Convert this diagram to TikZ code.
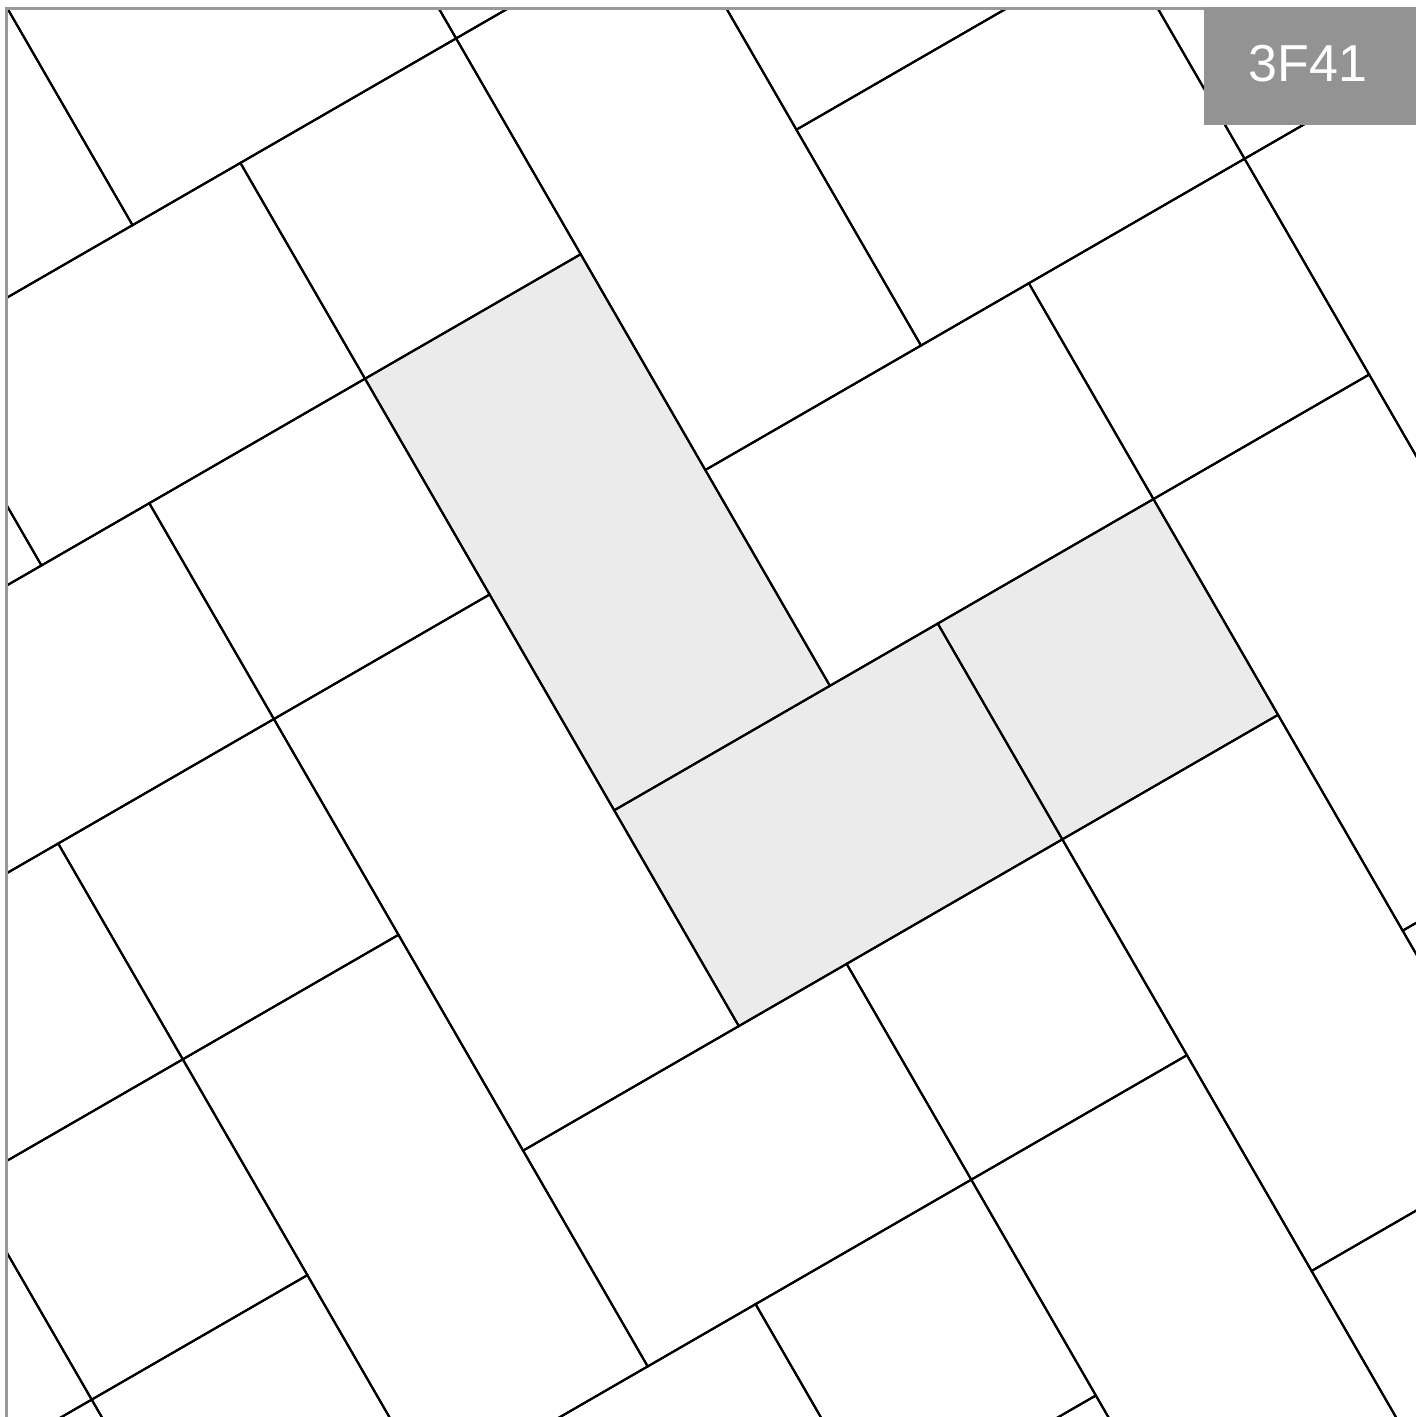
\documentclass[tikz,border=0pt]{standalone}
\usepackage{fontspec}
\setmainfont{Liberation Sans}
\definecolor{framegray}{HTML}{999999}
\definecolor{labelgray}{HTML}{939393}
\definecolor{tilefill}{HTML}{EBEBEB}
\begin{document}
\begin{tikzpicture}[x=1pt,y=-1pt,
  tileline/.style={line width=2.1pt, black, line join=miter},
  hilite/.style={fill=tilefill},
  framestyle/.style={framegray, line width=3pt},
  labeltext/.style={text=white, font=\fontsize{52}{52}\selectfont, inner sep=0pt, anchor=base}]
\useasboundingbox (0,0) rectangle (1416,1417);
\begin{scope}
  \clip (6.5,8.3) rectangle (1416,1417);
  \begin{scope}[shift={(614.2,810.3)}, x={(215.7pt,124.5pt)}, y={(124.6pt,-215.8pt)}]
    \fill[hilite] (0,-2) -- (1,-2) -- (1,0) -- (0,0) -- cycle;
    \fill[hilite] (0,0) -- (2.5,0) -- (2.5,1) -- (0,1) -- cycle;
    \foreach \m in {-7,...,7}{
      \foreach \n in {-3,...,3}{
        \pgfmathsetmacro{\da}{\m+4.5*\n}
        \pgfmathsetmacro{\db}{-\m}
        \begin{scope}[shift={(\da,\db)}]
          \draw[tileline] (0,-2) -- (1,-2) -- (1,0) -- (0,0) -- cycle;
          \draw[tileline] (0,0) -- (1.5,0) -- (1.5,1) -- (0,1) -- cycle;
          \draw[tileline] (1.5,0) -- (2.5,0) -- (2.5,1) -- (1.5,1) -- cycle;
        \end{scope}
      }
    }
  \end{scope}
\end{scope}
\draw[framestyle] (6.5,1417) -- (6.5,8.3) -- (1416,8.3);
\fill[labelgray] (1204,6.8) rectangle (1416,125);
\node (label) [labeltext] at (1308,81) {3F41};
\end{tikzpicture}
\end{document}
